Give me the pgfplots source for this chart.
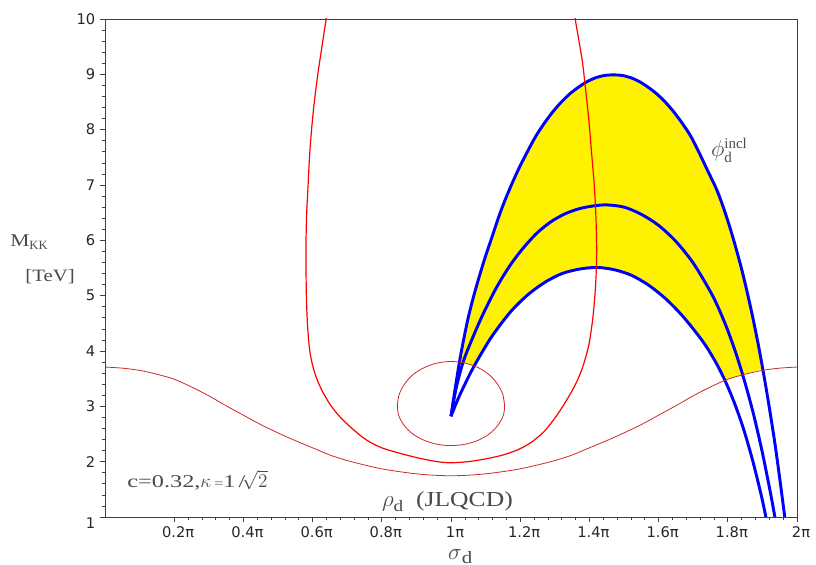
\documentclass[border=0pt]{standalone}
\usepackage{fontspec}
\setmainfont{Liberation Serif}
\newfontfamily\tickfont{DejaVu Sans}
\newfontfamily\lblfont[FakeStretch=1.2]{Liberation Serif}
\newfontfamily\lblfontw[FakeStretch=1.35]{Liberation Serif}
\usepackage{pgfplots}
\pgfplotsset{compat=1.18}
\definecolor{txtgray}{HTML}{4A4A4A}
\definecolor{darkred}{HTML}{D02828}

\begin{document}
\begin{tikzpicture}
\begin{axis}[
  scale only axis, width=519pt, height=373.5pt,
  xmin=0, xmax=2, ymin=1, ymax=10,
  clip mode=individual,
  axis line style={black!75, line width=0.6pt},
  tick align=outside, tick pos=left,
  xtick={0.2,0.4,0.6,0.8,1,1.2,1.4,1.6,1.8,2},
  xticklabels={0.2π,0.4π,0.6π,0.8π,1π,1.2π,1.4π,1.6π,1.8π,2π},
  ytick={1,2,3,4,5,6,7,8,9,10},
  yticklabels={\smash{\raisebox{-9pt}{1}},2,3,4,5,6,7,8,9,10},
  minor x tick num=4, minor y tick num=4,
  major tick length=3.75pt, minor tick length=2pt,
  every tick/.style={black!75, line width=0.5pt},
  ticklabel style={font=\tickfont\fontsize{11}{13}\selectfont, text=black!85},
  xticklabel style={xshift=3pt},
]
\coordinate (bl) at (rel axis cs:0,0);
\coordinate (tr) at (rel axis cs:1,1);

% yellow band between outer and inner arch
\addplot[fill=yellow, draw=none] coordinates {
(1.024,3.79)(1.029,3.96)(1.049,4.58)(1.069,5.07)(1.094,5.60)(1.119,6.07)(1.144,6.53)(1.169,6.92)(1.194,7.27)(1.219,7.58)(1.244,7.87)(1.269,8.11)(1.294,8.32)(1.319,8.50)(1.344,8.65)(1.369,8.77)(1.394,8.87)(1.419,8.94)(1.444,8.98)(1.469,8.99)(1.494,8.98)(1.519,8.94)(1.544,8.87)(1.569,8.77)(1.594,8.65)(1.619,8.50)(1.644,8.32)(1.669,8.11)(1.694,7.87)(1.719,7.56)(1.744,7.23)(1.769,6.90)(1.794,6.47)(1.819,5.96)(1.844,5.38)(1.869,4.70)(1.891,4.02)(1.900,3.68)
(1.85,3.58)(1.80,3.49)(1.790,3.47)
(1.771,3.73)(1.746,4.00)(1.721,4.23)(1.671,4.62)(1.621,4.94)(1.571,5.19)(1.521,5.37)(1.471,5.47)(1.421,5.51)(1.371,5.48)(1.321,5.40)(1.271,5.24)(1.221,5.01)(1.171,4.70)(1.121,4.29)(1.091,3.99)(1.066,3.72)
(1.045,3.78)
} -- cycle;

% blue arches
\addplot[blue, line width=2.2pt, smooth] coordinates {
(1.000,2.82)(1.014,3.40)(1.029,3.96)(1.049,4.58)(1.069,5.07)(1.094,5.60)(1.119,6.07)(1.144,6.53)(1.169,6.92)(1.194,7.27)(1.219,7.58)(1.244,7.87)(1.269,8.11)(1.294,8.32)(1.319,8.50)(1.344,8.65)(1.369,8.77)(1.394,8.87)(1.419,8.94)(1.444,8.98)(1.469,8.99)(1.494,8.98)(1.519,8.94)(1.544,8.87)(1.569,8.77)(1.594,8.65)(1.619,8.50)(1.644,8.32)(1.669,8.11)(1.694,7.87)(1.719,7.56)(1.744,7.23)(1.769,6.90)(1.794,6.47)(1.819,5.96)(1.844,5.38)(1.869,4.70)(1.891,4.02)(1.912,3.28)(1.934,2.42)(1.950,1.70)(1.967,0.88)(1.972,0.60)
};
\addplot[blue, line width=2.2pt, smooth] coordinates {
(1.000,2.82)(1.015,3.33)(1.035,3.80)(1.060,4.20)(1.090,4.63)(1.130,5.13)(1.170,5.54)(1.210,5.87)(1.250,6.14)(1.290,6.34)(1.330,6.48)(1.370,6.57)(1.410,6.62)(1.450,6.64)(1.500,6.60)(1.550,6.47)(1.600,6.27)(1.650,5.98)(1.700,5.59)(1.750,5.07)(1.775,4.75)(1.800,4.37)(1.825,3.93)(1.850,3.42)(1.875,2.84)(1.900,2.16)(1.925,1.38)(1.940,0.86)
};
\addplot[blue, line width=2.2pt, smooth] coordinates {
(1.000,2.82)(1.016,3.07)(1.031,3.28)(1.061,3.66)(1.091,3.99)(1.121,4.29)(1.171,4.70)(1.221,5.01)(1.271,5.24)(1.321,5.40)(1.371,5.48)(1.421,5.51)(1.471,5.47)(1.521,5.37)(1.571,5.19)(1.621,4.94)(1.671,4.62)(1.721,4.23)(1.746,4.00)(1.771,3.73)(1.796,3.41)(1.821,3.03)(1.846,2.58)(1.871,2.04)(1.896,1.41)(1.911,0.97)(1.915,0.80)
};

% red curves
\addplot[red, line width=0.9pt, smooth] coordinates {
(0.645,10.3)(0.639,10.0)(0.627,9.5)(0.615,9.0)(0.605,8.5)(0.597,8.0)(0.591,7.5)(0.587,7.0)(0.583,6.5)(0.581,6.0)(0.581,5.5)(0.582,5.0)(0.585,4.5)(0.590,4.1)(0.596,3.85)(0.604,3.65)(0.615,3.45)(0.631,3.24)(0.652,3.02)(0.679,2.81)(0.714,2.60)(0.756,2.39)(0.800,2.25)(0.853,2.15)(0.910,2.06)(0.960,2.00)(1.000,1.98)(1.050,2.00)(1.100,2.05)(1.150,2.12)(1.195,2.22)(1.232,2.35)(1.270,2.55)(1.305,2.83)(1.334,3.11)(1.360,3.40)(1.380,3.70)(1.398,4.10)(1.410,4.60)(1.418,5.20)(1.421,5.80)(1.419,6.40)(1.414,7.00)(1.406,7.60)(1.398,8.20)(1.387,8.84)(1.379,9.26)(1.359,10.0)(1.353,10.3)
};
\addplot[darkred, line width=0.6pt, smooth] coordinates {
(0.00,3.71)(0.05,3.69)(0.10,3.65)(0.15,3.58)(0.20,3.49)(0.25,3.35)(0.30,3.19)(0.35,3.01)(0.40,2.84)(0.45,2.67)(0.50,2.52)(0.55,2.38)(0.60,2.25)(0.65,2.12)(0.70,2.02)(0.75,1.94)(0.80,1.87)(0.85,1.82)(0.90,1.78)(0.95,1.755)(1.00,1.745)
(1.05,1.755)(1.10,1.78)(1.15,1.82)(1.20,1.87)(1.25,1.94)(1.30,2.02)(1.35,2.12)(1.40,2.25)(1.45,2.38)(1.50,2.52)(1.55,2.67)(1.60,2.84)(1.65,3.01)(1.70,3.19)(1.75,3.35)(1.80,3.49)(1.85,3.58)(1.90,3.65)(1.95,3.69)(2.00,3.71)
};
\addplot[darkred, line width=0.6pt, smooth] coordinates {
(1.155,3.000)(1.150,3.210)(1.134,3.405)(1.110,3.573)(1.078,3.701)(1.040,3.782)(1.000,3.810)(0.960,3.782)(0.923,3.701)(0.890,3.573)(0.866,3.405)(0.850,3.210)(0.845,3.000)(0.850,2.816)(0.866,2.645)(0.890,2.498)(0.923,2.385)(0.960,2.314)(1.000,2.290)(1.040,2.314)(1.078,2.385)(1.110,2.498)(1.134,2.645)(1.150,2.816)(1.155,3.000)(1.150,3.210)
};

% annotations
\node[anchor=base west, inner sep=0pt, font=\lblfontw\fontsize{13.5}{16}\selectfont, text=txtgray]
  at (axis cs:0.064,1.54) {c=0.32,$\kappa$\,{\fontsize{9}{10}\selectfont =}1\,/$\!\sqrt{2}$};
\node[anchor=base west, inner sep=0pt, font=\lblfont\fontsize{16}{19}\selectfont, text=txtgray]
  at (axis cs:0.800,1.19) {{\fontsize{19}{21}\selectfont$\rho$}\raisebox{-4pt}{\fontsize{12}{14}\selectfont d}\hspace{0.6em}(JLQCD)};
\node[anchor=base west, inner sep=0pt, font=\lblfont\fontsize{16}{19}\selectfont, text=txtgray]
  at (axis cs:1.751,7.51) {$\phi_{\mathrm{d}}^{\mathrm{incl}}$};
\node[anchor=base west, inner sep=0pt, font=\lblfont\fontsize{13.5}{16}\selectfont, text=txtgray]
  at (axis cs:-0.2746,5.88) {M$_{\mathrm{KK}}$};
\node[anchor=base west, inner sep=0pt, font=\lblfont\fontsize{13}{16}\selectfont, text=txtgray]
  at (axis cs:-0.231,5.25) {[TeV]};
\node[anchor=base west, inner sep=0pt, font=\lblfont\fontsize{18}{20}\selectfont, text=txtgray]
  at (axis cs:0.991,0.225) {$\sigma$\raisebox{-2.5pt}{\fontsize{13}{15}\selectfont d}};
\end{axis}
\pgfresetboundingbox
\path[use as bounding box] ([xshift=-78.75pt,yshift=-36pt]bl) rectangle ([xshift=14.25pt,yshift=14.25pt]tr);
\end{tikzpicture}
\end{document}
